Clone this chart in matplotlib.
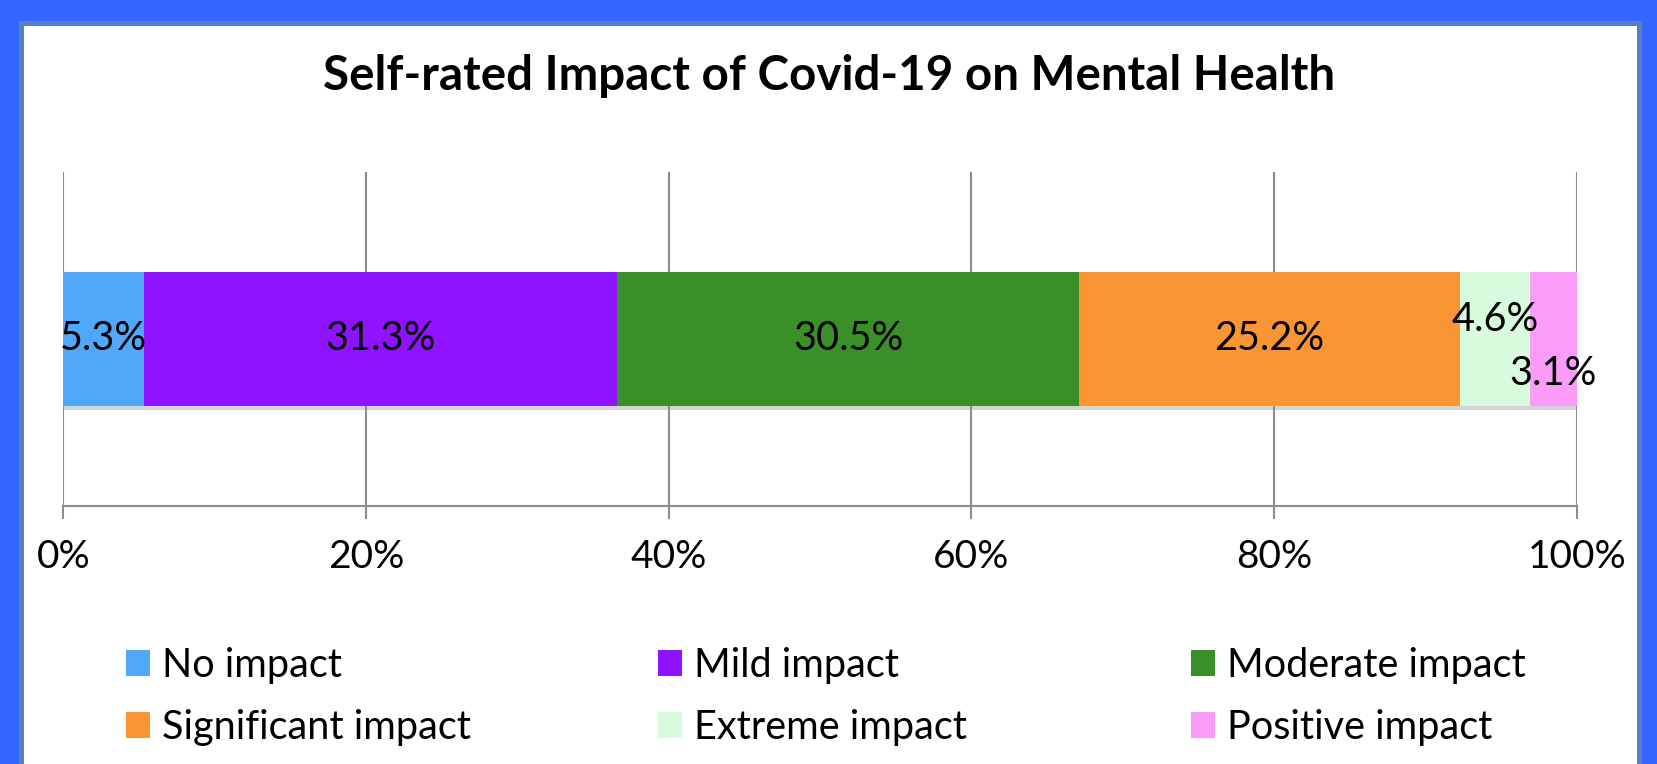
import matplotlib
matplotlib.use("Agg")
import matplotlib.pyplot as plt
from matplotlib.patches import Patch, Rectangle
import matplotlib.patheffects as pe

# Data
categories = ["No impact", "Mild impact", "Moderate impact",
              "Significant impact", "Extreme impact", "Positive impact"]
shares = [5.3, 31.3, 30.5, 25.2, 4.6, 3.1]
colors = ["#51A7F9", "#8E14FF", "#3A8F28", "#F99533", "#D9FBDD", "#FB9CF9"]
tick_vals = [0, 20, 40, 60, 80, 100]
tick_labels = ["0%", "20%", "40%", "60%", "80%", "100%"]

plt.rcParams['font.family'] = ['Lato', 'DejaVu Sans']

W, H = 1658, 764
fig = plt.figure(figsize=(W / 100, H / 100), dpi=100)
fig.patch.set_facecolor("#3366FF")

# White panel with a thin steel-blue edge inside the blue frame
panel = Rectangle((21.5 / W, -0.1), (1639.5 - 21.5) / W, 1.1 - 23.5 / H,
                  transform=fig.transFigure, facecolor="white",
                  edgecolor="#5580C0", linewidth=3.6, zorder=-10)
fig.patches.append(panel)

ax = fig.add_axes([63.3 / W, 1 - 506 / H, 1513.5 / W, (506 - 172) / H])
ax.set_facecolor("none")
ax.set_zorder(2)

# Stacked horizontal bar
left = 0
bars = []
for cat, val, col in zip(categories, shares, colors):
    b = ax.barh(0, val, left=left, height=0.4, color=col, label=cat, zorder=3)
    for p in b.patches:
        p.set_path_effects([pe.SimplePatchShadow(offset=(0, -3), shadow_rgbFace="#888888", alpha=0.35),
                            pe.Normal()])
    bars.append((left, val))
    left += val

# Value labels
offsets = [0, 0, 0, 0, 14, -25]
for (start, val), dy in zip(bars, offsets):
    ax.annotate(f"{val:.1f}%", xy=(start + val / 2, 0), xytext=(0, dy),
                textcoords="offset points", ha="center", va="center",
                fontsize=28.5, color="black", zorder=4)

ax.set_xlim(0, 100)
ax.set_ylim(-0.5, 0.5)
ax.set_yticks([])
ax.set_xticks(tick_vals)
ax.set_xticklabels(tick_labels, fontsize=28)
ax.tick_params(axis="x", direction="out", length=9.4, width=1.5, color="#8C8C8C", pad=14)
ax.grid(axis="x", color="#8C8C8C", linewidth=1.5, zorder=1)
for s in ["top", "left", "right"]:
    ax.spines[s].set_visible(False)
ax.spines["bottom"].set_color("#8C8C8C")
ax.spines["bottom"].set_linewidth(1.5)

fig.text(0.5, 1 - 90 / H, "Self-rated Impact of Covid-19 on Mental Health",
         ha="center", va="baseline", fontsize=34.2, fontweight="bold")

# Legend in three columns
col_x = [126, 658, 1191]
for i, x in enumerate(col_x):
    idx = [i, i + 3]
    handles = [Patch(facecolor=colors[j], edgecolor="none") for j in idx]
    labels = [categories[j] for j in idx]
    fig.legend(handles, labels, loc="upper left", bbox_to_anchor=(x / W, 1 - 647 / H),
               frameon=False, fontsize=28.5, handlelength=0.6, handleheight=0.6,
               handletextpad=0.3, labelspacing=0.63, borderpad=0, borderaxespad=0)

fig.savefig("out.png", dpi=100, facecolor=fig.get_facecolor())
